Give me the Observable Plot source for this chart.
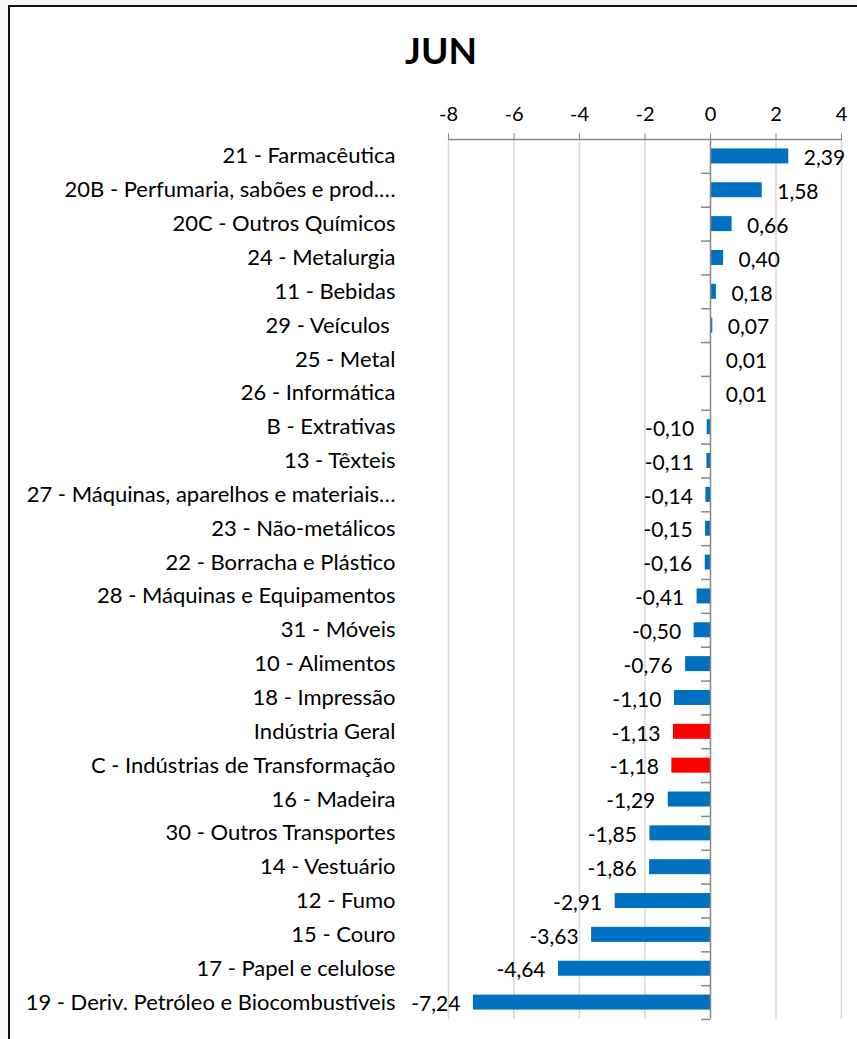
<!DOCTYPE html>
<html>
<head>
<meta charset="utf-8">
<script src="https://cdn.jsdelivr.net/npm/d3@7"></script>
<script src="https://cdn.jsdelivr.net/npm/@observablehq/plot@0.6"></script>
<style>
  html, body { margin: 0; padding: 0; background: #f7f7f7; width: 857px; height: 1039px; overflow: hidden; }
  #frame { position: absolute; left: 8px; top: 5px; width: 900px; height: 1100px; border: 2px solid #111; background: #fff; box-sizing: border-box; }
  #title { position: absolute; left: 341px; width: 200px; top: 27px; text-align: center; font-family: Lato, sans-serif; font-weight: bold; font-size: 37px; color: #000; }
  #chart { position: absolute; left: 0; top: 0; }
</style>
</head>
<body>
<div id="frame"></div>
<div id="title">JUN</div>
<div id="chart"></div>
<script>
const categories = [
  "21 - Farmacêutica",
  "20B - Perfumaria, sabões e prod.…",
  "20C - Outros Químicos",
  "24 - Metalurgia",
  "11 - Bebidas",
  "29 - Veículos ",
  "25 - Metal",
  "26 - Informática",
  "B - Extrativas",
  "13 - Têxteis",
  "27 - Máquinas, aparelhos e materiais…",
  "23 - Não-metálicos",
  "22 - Borracha e Plástico",
  "28 - Máquinas e Equipamentos",
  "31 - Móveis",
  "10 - Alimentos",
  "18 - Impressão",
  "Indústria Geral",
  "C - Indústrias de Transformação",
  "16 - Madeira",
  "30 - Outros Transportes",
  "14 - Vestuário",
  "12 - Fumo",
  "15 - Couro",
  "17 - Papel e celulose",
  "19 - Deriv. Petróleo e Biocombustíveis"
];
const values = [2.39, 1.58, 0.66, 0.40, 0.18, 0.07, 0.01, 0.01, -0.10, -0.11, -0.14, -0.15, -0.16, -0.41, -0.50, -0.76, -1.10, -1.13, -1.18, -1.29, -1.85, -1.86, -2.91, -3.63, -4.64, -7.24];
const highlighted = ["Indústria Geral", "C - Indústrias de Transformação"];
const xTicks = [-8, -6, -4, -2, 0, 2, 4];

const data = categories.map((c, i) => ({category: c, value: values[i]}));
const fmt = v => v.toFixed(2).replace(".", ",");

const W = 857, H = 1039;
const mTop = 139, mBottom = 20, mLeft = 448, mRight = 16;
const step = (H - mTop - mBottom) / categories.length;
const pxPerUnit = (W - mLeft - mRight) / (xTicks[xTicks.length - 1] - xTicks[0]);
const tickLen = 9 / pxPerUnit;
const barH = 15;
const inset = (step - barH) / 2;

const chart = Plot.plot({
  width: W,
  height: H,
  marginTop: mTop,
  marginBottom: mBottom,
  marginLeft: mLeft,
  marginRight: mRight,
  style: { background: "transparent", fontFamily: "Lato, sans-serif", fontSize: "20px", color: "#000", overflow: "visible" },
  x: { domain: [-8, 4] },
  y: { domain: categories, padding: 0, round: false },
  marks: [
    Plot.ruleX(xTicks.filter(t => t !== 0), { stroke: "#d9d9d9", strokeWidth: 1.5 }),
    Plot.axisX({ anchor: "top", ticks: xTicks, tickSize: 7, tickPadding: 12, stroke: "#888", tickFormat: d => String(d), label: null, fontSize: 20 }),
    Plot.ruleY([categories[0]], { y: d => d, x1: -8, x2: 4, dy: -step / 2, stroke: "#888", strokeWidth: 1.5 }),
    Plot.axisY({ anchor: "left", tickSize: 0, tickPadding: 53, label: null, fontSize: 22 }),
    Plot.barX(data, {
      x: "value", y: "category",
      fill: d => highlighted.includes(d.category) ? "#FF0000" : "#0070C0",
      insetTop: inset, insetBottom: inset
    }),
    Plot.ruleX([0], { stroke: "#888", strokeWidth: 1.5 }),
    Plot.ruleY(categories, { y: d => d, x1: -tickLen, x2: 0, dy: step / 2, stroke: "#888", strokeWidth: 1.5 }),
    Plot.text(data.filter(d => d.value >= 0), {
      x: "value", y: "category", text: d => fmt(d.value),
      textAnchor: "start", dx: 15, dy: 2, fontSize: 21, fill: "#000"
    }),
    Plot.text(data.filter(d => d.value < 0), {
      x: "value", y: "category", text: d => fmt(d.value),
      textAnchor: "end", dx: -13, dy: 2, fontSize: 21, fill: "#000"
    })
  ]
});
document.getElementById("chart").appendChild(chart);
</script>
</body>
</html>
